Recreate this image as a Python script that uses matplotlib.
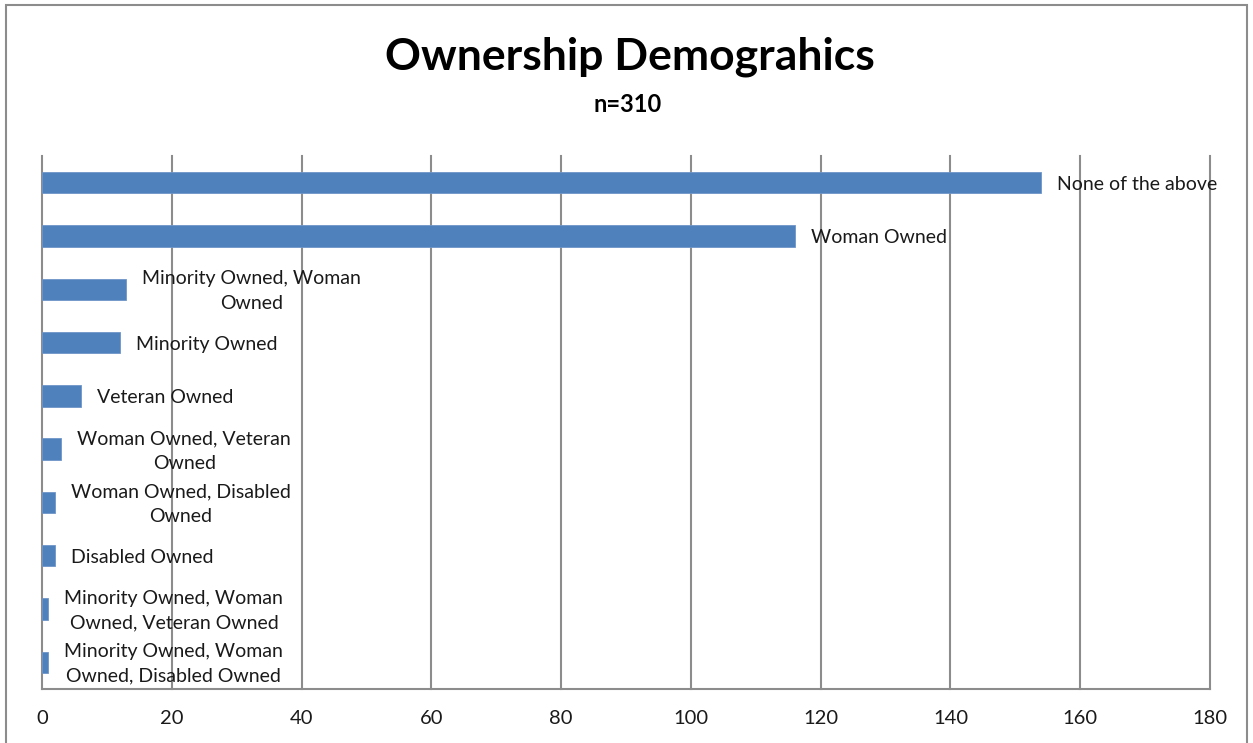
import matplotlib
matplotlib.use("Agg")
import matplotlib.pyplot as plt
from matplotlib.patches import Rectangle

categories = [
    "None of the above",
    "Woman Owned",
    "Minority Owned, Woman\nOwned",
    "Minority Owned",
    "Veteran Owned",
    "Woman Owned, Veteran\nOwned",
    "Woman Owned, Disabled\nOwned",
    "Disabled Owned",
    "Minority Owned, Woman\nOwned, Veteran Owned",
    "Minority Owned, Woman\nOwned, Disabled Owned",
]
values = [154, 116, 13, 12, 6, 3, 2, 2, 1, 1]
xticks = [0, 20, 40, 60, 80, 100, 120, 140, 160, 180]

title = "Ownership Demograhics"
subtitle = "n=310"

plt.rcParams['font.family'] = ['Lato', 'DejaVu Sans']

W, H = 1253, 743
fig = plt.figure(figsize=(W / 100, H / 100), dpi=100)
fig.patch.set_facecolor('white')

# outer chart border
fig.add_artist(Rectangle((6 / W, -0.05), (1247 - 6) / W, 1.05 - 5 / H,
                         transform=fig.transFigure, fill=False,
                         edgecolor='#8c8c8c', linewidth=1.5))

ax = fig.add_axes([42 / W, 1 - 689 / H, (1210 - 42) / W, (689 - 156) / H])
ypos = list(range(len(categories)))

grid_c = '#8c8c8c'
for t in xticks:
    ax.axvline(t, color=grid_c, linewidth=1.5, zorder=1, clip_on=False)

ax.barh(ypos, values, height=0.4, color='#4f81bd', edgecolor='#6f95c8',
        linewidth=0.6, zorder=2)

for y, v, lab in zip(ypos, values, categories):
    ax.annotate(lab, xy=(v, y), xytext=(11.5, -1.2), textcoords='offset points',
                ha='left', va='center', multialignment='center',
                fontsize=14, color='#1a1a1a', zorder=3,
                linespacing=1.55)

ax.set_xlim(0, 180)
ax.set_ylim(len(categories) - 0.5, -0.5)
ax.set_xticks(xticks)
ax.set_xticklabels([str(t) for t in xticks], fontsize=14.5, color='#1a1a1a')
ax.tick_params(axis='x', length=0, pad=15)
ax.set_yticks([])
for s in ['top', 'right', 'left']:
    ax.spines[s].set_visible(False)
ax.spines['bottom'].set_color(grid_c)
ax.spines['bottom'].set_linewidth(1.5)
ax.set_facecolor('none')

fig.text(630 / W, 1 - 57 / H, title, ha='center', va='center',
         fontsize=32, fontweight='bold', color='black')
fig.text(628 / W, 1 - 105 / H, subtitle, ha='center', va='center',
         fontsize=17, fontweight='bold', color='black')

fig.savefig('out.png', dpi=100, facecolor='white')
